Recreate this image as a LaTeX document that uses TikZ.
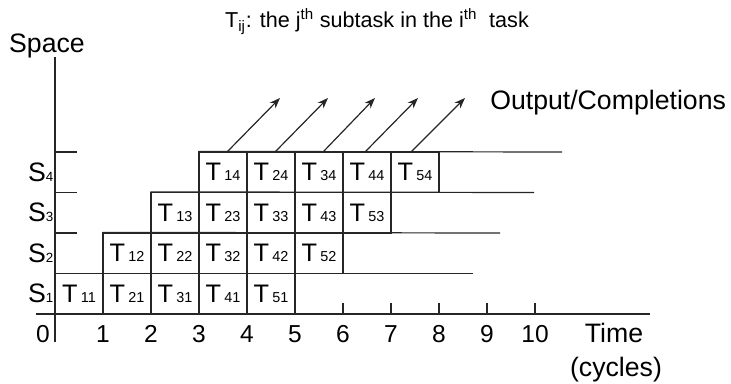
\documentclass[tikz,border=0pt]{standalone}
\usepackage{fontspec}
\setmainfont{Liberation Sans}
\usetikzlibrary{arrows.meta}
\begin{document}
\begin{tikzpicture}[x=0.75pt,y=-0.75pt,
  ln/.style={draw=black!85, line width=0.9pt},
  cell/.style={ln, minimum width=36pt, minimum height=30.375pt, inner sep=0pt,
    font=\fontsize{19}{20}\selectfont},
  big/.style={inner sep=0pt, font=\fontsize{20}{24}\selectfont},
  num/.style={inner sep=0pt, font=\fontsize{18.4}{22}\selectfont},
  ttl/.style={inner sep=0pt, font=\fontsize{16.2}{20}\selectfont},
  arr/.style={ln, -{Stealth[length=8pt,width=6pt]}}]
\useasboundingbox (0,0) rectangle (731,384);

% axes
\coordinate (ytop) at (55,57);
\coordinate (ybot) at (55,342);
\coordinate (xl) at (36,314);
\coordinate (xr) at (650,314);
\draw[ln] (ytop) -- (ybot);
\draw[ln] (xl) -- (xr);

% cells
\foreach \i in {1,...,5}{
  \foreach \j in {1,...,4}{
    \pgfmathsetmacro{\cx}{55+48*(\i+\j-2)+24}
    \pgfmathsetmacro{\cy}{314-40.5*(\j-0.5)}
    \node[cell] (T\i\j) at (\cx,\cy) {T\hspace{2.5pt}{\fontsize{10.8}{12}\selectfont\i\j}};
  }
}

% row top lines and left ticks
\draw[ln] (55,273.5) -- (473,273.5);
\draw[ln] (T12.north west) -- (500,233);
\draw[ln] (T13.north west) -- (534,192.5);
\draw[ln] (T14.north west) -- (562,152);
\foreach \y in {233,192.5,152}{\draw[ln] (55,\y) -- (77,\y);}

% time ticks
\foreach \k in {6,...,10}{\draw[ln] (55+48*\k,303) -- (55+48*\k,314);}

% numbers
\node[num, anchor=base] (n0) at (43,343) {0};
\foreach \k in {1,...,10}{\node[num, anchor=base] (n\k) at (55+48*\k,343) {\k};}

% row labels
\foreach \j in {1,...,4}{
  \pgfmathsetmacro{\cy}{314-40.5*(\j-0.5)}
  \node[big, anchor=east] (S\j) at (53.5,\cy) {S{\fontsize{10}{12}\selectfont\j}};
}

% texts
\node[big, anchor=base] (space) at (47,53) {Space};
\node[big, anchor=base] (time) at (614,343) {Time};
\node[big, anchor=base] (cycles) at (616,376) {(cycles)};
\node[big, anchor=base west] (out) at (490,110) {Output/Completions};
\node[ttl, anchor=base] (title) at (377,28) {T\textsubscript{ij}: the j\textsuperscript{th} subtask in the i\textsuperscript{th}\ \ task};

% output arrows
\coordinate (a1) at (227,152); \coordinate (o1) at (280,98);
\coordinate (a2) at (275,152); \coordinate (o2) at (328,98);
\coordinate (a3) at (323,152); \coordinate (o3) at (375,98);
\coordinate (a4) at (365,152); \coordinate (o4) at (418,98);
\coordinate (a5) at (411,152); \coordinate (o5) at (465,98);
\foreach \n in {1,...,5}{\draw[arr] (a\n) -- (o\n);}
\end{tikzpicture}
\end{document}
